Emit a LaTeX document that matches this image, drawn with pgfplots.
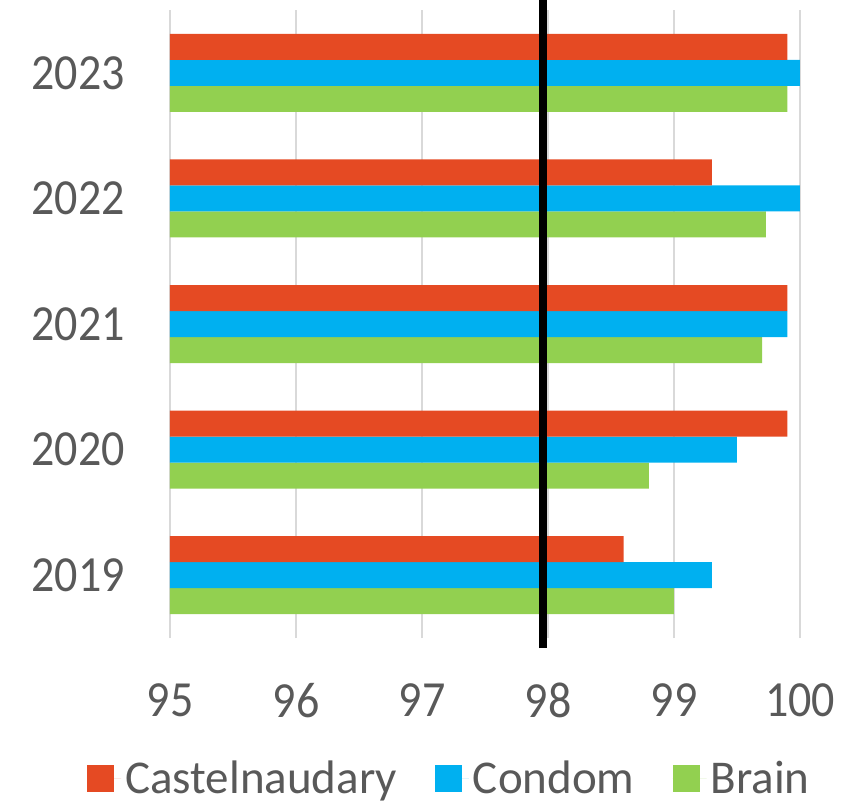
\documentclass[border=0pt]{standalone}
\usepackage{pgfplots}
\pgfplotsset{compat=1.18}
\usepackage{fontspec}
\setmainfont{Carlito}
\definecolor{cred}{HTML}{E54A23}
\definecolor{cblue}{HTML}{00B0F0}
\definecolor{cgreen}{HTML}{92D050}
\definecolor{ctext}{HTML}{595959}
\definecolor{cgrid}{HTML}{D9D9D9}
\begin{document}
\begin{tikzpicture}
\path[use as bounding box] (-85pt,-83pt) rectangle (345.5pt,319pt);
\begin{axis}[
  at={(0,0)}, anchor=south west,
  scale only axis,
  width=315pt, height=314pt,
  xbar=0pt, bar width=13pt,
  xmin=95, xmax=100,
  ymin=-0.5, ymax=4.5,
  ytick={0,1,2,3,4},
  yticklabels={2019,2020,2021,2022,2023},
  xtick={95,96,97,98,99,100},
  xmajorgrids,
  grid style={cgrid, line width=1pt},
  axis line style={draw=none},
  major tick length=0pt,
  tick style={draw=none},
  font=\fontsize{23}{28}\selectfont,
  ticklabel style={text=ctext, font=\fontsize{23}{28}\selectfont, yscale=1.1, transform shape},
  yticklabel style={xshift=-19pt},
  xticklabel style={yshift=-17pt},
  /pgf/number format/assume math mode=true,
  reverse legend,
  legend columns=3,
  legend style={draw=none, at={(0.445,-0.224)}, anchor=center,
    font=\fontsize{23.5}{28}\selectfont, text=ctext,
    /tikz/every even column/.append style={column sep=17pt}},
  legend image code/.code={\fill[#1] (0pt,-6.75pt) rectangle (13.5pt,6.75pt);
    \path (0pt,0pt) -- (17pt,0pt);},
  extra description/.code={
    \draw[black, line width=4pt] (axis cs:97.96,-0.58) -- (axis cs:97.96,4.58);
  },
]
\addplot[draw=none, fill=cgreen] coordinates {(99.0,0) (98.8,1) (99.7,2) (99.73,3) (99.9,4)};
\addplot[draw=none, fill=cblue] coordinates {(99.3,0) (99.5,1) (99.9,2) (100,3) (100,4)};
\addplot[draw=none, fill=cred] coordinates {(98.6,0) (99.9,1) (99.9,2) (99.3,3) (99.9,4)};
\legend{Brain, Condom, Castelnaudary}
\end{axis}
\end{tikzpicture}
\end{document}
